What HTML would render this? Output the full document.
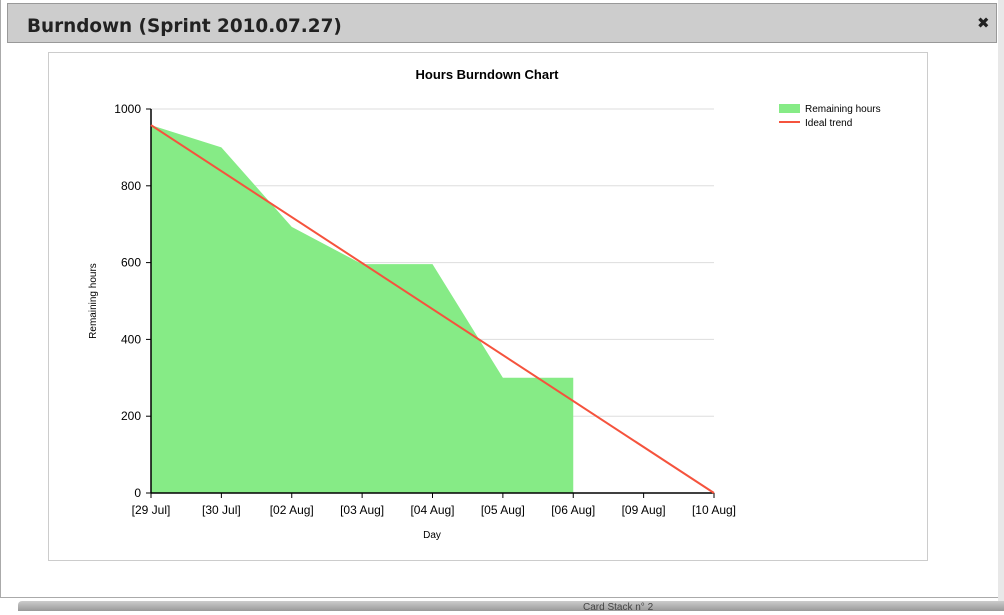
<!DOCTYPE html>
<html><head><meta charset="utf-8"><style>
body{margin:0;width:1004px;height:611px;overflow:hidden;background:#fff;font-family:"Liberation Sans",sans-serif;position:relative}
#dlg{position:absolute;left:0;top:0;width:997px;height:597px;border:1px solid #aaa;border-top:none;background:#fff}
#hdr{position:absolute;left:6px;top:3px;width:988px;height:38px;background:#cdcdcd;border:1px solid #999}
#ttl{position:absolute;left:19px;top:12px;font:bold 18.4px "DejaVu Sans","Liberation Sans",sans-serif;color:#222}
#cls{position:absolute;left:969px;top:10px;font:bold 15px "DejaVu Sans",sans-serif;color:#222}
#frame{position:absolute;left:47px;top:52px;width:878px;height:507px;border:1px solid #ccc}
#rb{position:absolute;left:998px;top:0;width:6px;height:611px;background:#e8e8e8}
#bb{position:absolute;left:18px;top:601px;width:986px;height:10px;background:linear-gradient(#ccc,#999);border-radius:4px 0 0 0;font-size:10px;color:#444;line-height:14px}
#bb span{position:absolute;left:565px;top:0}
</style></head><body>
<div id="dlg">
<div id="hdr"><span id="ttl">Burndown (Sprint 2010.07.27)</span><span id="cls">✖</span></div>
<div id="frame"></div>
</div>
<div id="rb"></div>
<div id="bb"><span>Card Stack n° 2</span></div>
<svg id="chart" width="1004" height="611" style="position:absolute;left:0;top:0"></svg>
<script>
const categories=["[29 Jul]","[30 Jul]","[02 Aug]","[03 Aug]","[04 Aug]","[05 Aug]","[06 Aug]","[09 Aug]","[10 Aug]"];
const remaining=[958,900,693,596,596,300,300];
const idealStart=958;
const yTicks=[0,200,400,600,800,1000];
const NS="http://www.w3.org/2000/svg";
const svg=document.getElementById('chart');
const X0=151,X1=714,Y0=493,Y1=109;
const xs=i=>X0+(X1-X0)*i/(categories.length-1);
const ys=v=>Y0-(Y0-Y1)*v/1000;
function mk(t,a,txt){const e=document.createElementNS(NS,t);for(const k in a)e.setAttribute(k,a[k]);if(txt!=null)e.textContent=txt;svg.appendChild(e);return e;}
let e;
e=mk('text',{x:487,y:79,'text-anchor':'middle','font-size':13,'font-weight':'bold'},'Hours Burndown Chart');


yTicks.forEach(v=>{
 e=mk('line',{x1:X0,x2:X1,y1:ys(v),y2:ys(v),stroke:'#ddd'});
 
 
 e=mk('line',{x1:X0-5,x2:X0,y1:ys(v),y2:ys(v),stroke:'#000'});
 
 
 e=mk('text',{x:X0-10,y:ys(v)+4,'text-anchor':'end','font-size':12},v);
 
 
});
let pts=remaining.map((v,i)=>xs(i)+','+ys(v));
pts.push(xs(remaining.length-1)+','+ys(0));pts.push(xs(0)+','+ys(0));
e=mk('polygon',{points:pts.join(' '),fill:'#86eb86'});


e=mk('line',{x1:X0,x2:X0,y1:Y1,y2:Y0,stroke:'#000','stroke-width':1.5});


e=mk('line',{x1:X0,x2:X1,y1:Y0,y2:Y0,stroke:'#000','stroke-width':1.5});


categories.forEach((c,i)=>{
 e=mk('line',{x1:xs(i),x2:xs(i),y1:Y0,y2:Y0+5,stroke:'#000'});
 
 
 e=mk('text',{x:xs(i),y:Y0+21,'text-anchor':'middle','font-size':12},c);
 
 
});
e=mk('line',{x1:xs(0),y1:ys(idealStart),x2:xs(categories.length-1),y2:ys(0),stroke:'#f5533d','stroke-width':2});


e=mk('text',{x:432,y:538,'text-anchor':'middle','font-size':10},'Day');


e=mk('text',{x:96,y:301,'text-anchor':'middle','font-size':10,transform:'rotate(-90 96 301)'},'Remaining hours');


e=mk('rect',{x:779,y:104,width:21,height:9,fill:'#86eb86'});


e=mk('text',{x:805,y:112,'font-size':10},'Remaining hours');


e=mk('line',{x1:779,x2:800,y1:122,y2:122,stroke:'#f5533d','stroke-width':2});


e=mk('text',{x:805,y:126,'font-size':10},'Ideal trend');


</script>
</body></html>
